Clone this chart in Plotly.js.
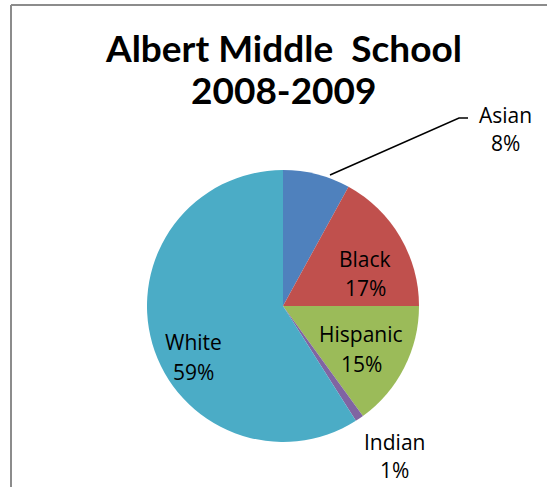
<!DOCTYPE html>
<html><head><meta charset="utf-8">
<script src="https://cdn.plot.ly/plotly-3.0.1.min.js"></script>
<style>html,body{margin:0;padding:0;background:#fff;}#chart{width:547px;height:487px;}</style>
</head><body><div id="chart"></div>
<script>
const categories = ["Asian", "Black", "Hispanic", "Indian", "White"];
const values = [8, 17, 15, 1, 59];
const colors = ["#4F81BD", "#C0504D", "#9BBB59", "#8064A2", "#4BACC6"];
const titleLines = ["Albert Middle  School", "2008-2009"];

const W = 547, H = 487;
const px = x => x / W, py = y => 1 - y / H;
const cx = 283, cy = 306, r = 136;

const total = values.reduce((a, b) => a + b, 0);
const pct = v => Math.round(v / total * 100) + "%";

// label anchor positions (pixels): [x, y of first line, y of second line]
const labelPos = [[505, 115, 143], [365, 259, 288], [361, 334, 364], [394, 442, 470], [193, 342, 372]];

const trace = {
  type: "pie",
  labels: categories,
  values: values,
  sort: false,
  direction: "clockwise",
  rotation: 0,
  marker: {colors: colors, line: {width: 0}},
  textinfo: "none",
  hoverinfo: "none",
  showlegend: false,
  domain: {x: [px(cx - r), px(cx + r)], y: [py(cy + r), py(cy - r)]}
};

const labelFont = {family: "Open Sans, sans-serif", size: 21, color: "#000"};
const annotations = [];
categories.forEach((c, i) => {
  const p = labelPos[i];
  annotations.push({xref: "paper", yref: "paper", x: px(p[0]), y: py(p[1]), xanchor: "center", yanchor: "middle",
    showarrow: false, text: c, font: labelFont});
  annotations.push({xref: "paper", yref: "paper", x: px(p[0]), y: py(p[2]), xanchor: "center", yanchor: "middle",
    showarrow: false, text: pct(values[i]), font: labelFont});
});
const titleY = [47, 90];
titleLines.forEach((t, i) => {
  annotations.push({xref: "paper", yref: "paper", x: px(283), y: py(titleY[i]), xanchor: "center", yanchor: "middle",
    showarrow: false, text: "<b>" + t + "</b>", font: {family: "Lato, sans-serif", size: 37, color: "#000"}});
});

const layout = {
  width: W, height: H,
  margin: {l: 0, r: 0, t: 0, b: 0},
  paper_bgcolor: "#fff",
  annotations: annotations,
  shapes: [
    {type: "line", xref: "paper", yref: "paper", x0: px(11), x1: px(11), y0: py(5), y1: 0, line: {color: "#8c8c8c", width: 2}},
    {type: "line", xref: "paper", yref: "paper", x0: px(11), x1: 1, y0: py(5), y1: py(5), line: {color: "#8c8c8c", width: 2}},
    {type: "path", xref: "paper", yref: "paper",
     path: `M ${px(330)} ${py(175)} L ${px(459)} ${py(118)} L ${px(468)} ${py(118)}`,
     line: {color: "#000", width: 1.5}}
  ]
};

Plotly.newPlot("chart", [trace], layout, {displayModeBar: false, staticPlot: true});
</script>
</body></html>
